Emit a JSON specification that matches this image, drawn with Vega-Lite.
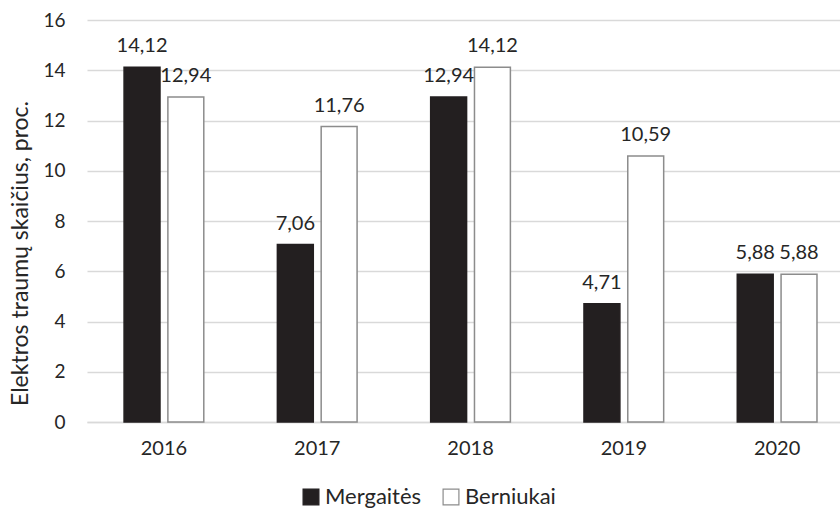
{
  "$schema": "https://vega.github.io/schema/vega-lite/v6.json",
  "width": 753,
  "height": 402,
  "autosize": {"type": "none"},
  "padding": {"left": 87, "top": 20, "right": 0, "bottom": 91},
  "background": "white",
  "config": {
    "font": "Lato",
    "view": {"stroke": null},
    "axis": {"labelColor": "#262626", "titleColor": "#262626", "labelFont": "Lato", "titleFont": "Lato"},
    "legend": {"labelColor": "#262626", "labelFont": "Lato"}
  },
  "data": {
    "values": [
      {"metai": "2016", "lytis": "Mergaitės", "proc": 14.12, "tekstas": "14,12"},
      {"metai": "2016", "lytis": "Berniukai", "proc": 12.94, "tekstas": "12,94"},
      {"metai": "2017", "lytis": "Mergaitės", "proc": 7.06, "tekstas": "7,06"},
      {"metai": "2017", "lytis": "Berniukai", "proc": 11.76, "tekstas": "11,76"},
      {"metai": "2018", "lytis": "Mergaitės", "proc": 12.94, "tekstas": "12,94"},
      {"metai": "2018", "lytis": "Berniukai", "proc": 14.12, "tekstas": "14,12"},
      {"metai": "2019", "lytis": "Mergaitės", "proc": 4.71, "tekstas": "4,71"},
      {"metai": "2019", "lytis": "Berniukai", "proc": 10.59, "tekstas": "10,59"},
      {"metai": "2020", "lytis": "Mergaitės", "proc": 5.88, "tekstas": "5,88"},
      {"metai": "2020", "lytis": "Berniukai", "proc": 5.88, "tekstas": "5,88"}
    ]
  },
  "encoding": {
    "x": {
      "field": "metai",
      "type": "nominal",
      "scale": {"paddingInner": 0.48, "paddingOuter": 0.196, "align": 0.617},
      "axis": {
        "title": null,
        "labelAngle": 0,
        "labelFontSize": 20,
        "labelPadding": 16,
        "ticks": false,
        "domainColor": "#d9d9d9",
        "domainWidth": 1.5
      }
    },
    "xOffset": {
      "field": "lytis",
      "type": "nominal",
      "sort": ["Mergaitės", "Berniukai"],
      "scale": {"paddingInner": 0.18, "paddingOuter": 0}
    },
    "y": {
      "field": "proc",
      "type": "quantitative",
      "scale": {"domain": [0, 16], "nice": false},
      "axis": {
        "title": "Elektros traumų skaičius, proc.",
        "titleFontSize": 23,
        "titleFontWeight": "normal",
        "titlePadding": 10,
        "titleY": 233,
        "values": [0, 2, 4, 6, 8, 10, 12, 14, 16],
        "labelFontSize": 19,
        "labelPadding": 22,
        "ticks": false,
        "domain": false,
        "gridColor": "#d9d9d9",
        "gridWidth": 1.5
      }
    }
  },
  "layer": [
    {
      "mark": {"type": "bar", "strokeWidth": 1.5},
      "encoding": {
        "color": {
          "field": "lytis",
          "type": "nominal",
          "sort": ["Mergaitės", "Berniukai"],
          "scale": {"domain": ["Mergaitės", "Berniukai"], "range": ["#231f20", "#ffffff"]},
          "legend": {
            "title": null,
            "orient": "none",
            "direction": "horizontal",
            "legendX": 213,
            "legendY": 466,
            "symbolType": "square",
            "symbolSize": 250,
            "symbolStrokeColor": "#231f20",
            "symbolStrokeWidth": 1.2,
            "labelFontSize": 22,
            "labelOffset": 3,
            "columnPadding": 18
          }
        },
        "stroke": {
          "field": "lytis",
          "type": "nominal",
          "scale": {"domain": ["Mergaitės", "Berniukai"], "range": ["#231f20", "#8c8c8c"]},
          "legend": null
        }
      }
    },
    {
      "mark": {"type": "text", "baseline": "middle", "dy": -21, "fontSize": 20, "color": "#262626"},
      "encoding": {
        "text": {"field": "tekstas", "type": "nominal"}
      }
    }
  ]
}
